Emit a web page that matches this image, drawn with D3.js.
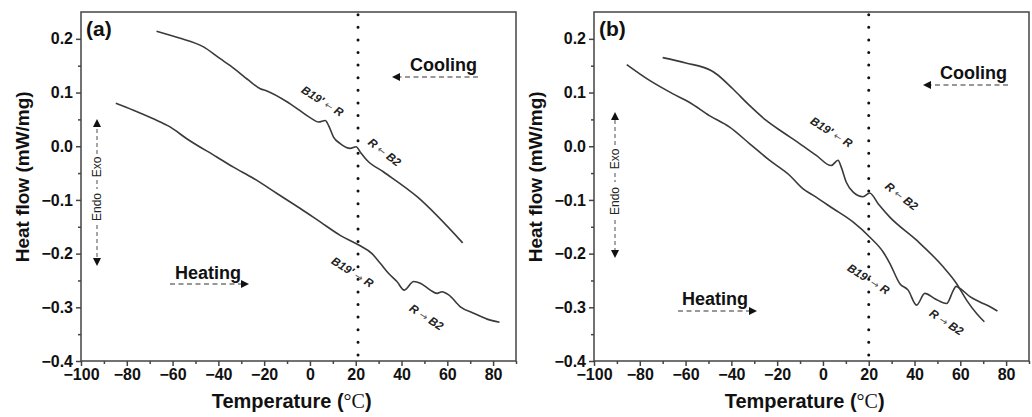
<!DOCTYPE html>
<html>
<head>
<meta charset="utf-8">
<script src="https://cdn.jsdelivr.net/npm/d3@7"></script>
<style>
body { margin: 0; background: #fff; }
svg { display: block; font-family: "Liberation Sans", Arial, sans-serif; }
</style>
</head>
<body>
<div id="chart"></div>
<script>
var width = 1032, height = 417;

// panel (a) curves
var aCoolT = [-67, -57.4, -46.5, -39.2, -34.8, -26.8, -21.7, -18.8, -8.6, 0.9, 3.8, 6.7, 8.1, 10.3, 13.2, 17.6, 20.2, 22, 24.9, 32.2, 46.8, 66.7];
var aCoolV = [0.214, 0.202, 0.185, 0.163, 0.150, 0.123, 0.107, 0.103, 0.079, 0.051, 0.045, 0.048, 0.039, 0.017, 0.005, -0.004, -0.001, -0.011, -0.026, -0.048, -0.094, -0.180];
var aHeatT = [-84.8, -77.1, -68.4, -61.1, -53.8, -40.7, -33.4, -24.6, -14.4, -4.2, 4.5, 13.2, 21.3, 27.1, 30.7, 34.4, 38, 41.2, 45.3, 48.2, 52.6, 55.5, 57.7, 60.6, 65.7, 71.5, 77.4, 82.8];
var aHeatV = [0.080, 0.067, 0.051, 0.036, 0.014, -0.020, -0.039, -0.060, -0.088, -0.116, -0.141, -0.166, -0.184, -0.200, -0.218, -0.237, -0.252, -0.268, -0.252, -0.255, -0.268, -0.274, -0.271, -0.277, -0.299, -0.311, -0.322, -0.328];

// panel (b) curves
var bCoolT = [-70, -59.9, -48.9, -46.7, -39.4, -32.1, -24.8, -17.5, -10.2, -2.9, 3.6, 6.6, 8, 10.2, 13.1, 17.5, 20.4, 24.1, 29.2, 40.9, 52.6, 58.4, 62.8, 67.2, 70.5];
var bCoolV = [0.165, 0.155, 0.141, 0.135, 0.107, 0.076, 0.048, 0.026, 0.005, -0.017, -0.036, -0.026, -0.039, -0.067, -0.085, -0.094, -0.087, -0.107, -0.132, -0.175, -0.225, -0.256, -0.287, -0.312, -0.327];
var bHeatT = [-85.7, -75.9, -65.7, -58.4, -49.6, -40.9, -32.1, -23.4, -14.6, -8.8, -4.4, 4.4, 13.1, 20.4, 26.3, 29.2, 33.6, 37.2, 40.9, 44.5, 48.9, 54, 57, 58.1, 59.9, 64.2, 68.6, 73, 76.2];
var bHeatV = [0.152, 0.123, 0.098, 0.082, 0.057, 0.036, 0.005, -0.026, -0.054, -0.079, -0.091, -0.116, -0.141, -0.169, -0.197, -0.218, -0.256, -0.268, -0.296, -0.274, -0.284, -0.293, -0.268, -0.261, -0.265, -0.280, -0.290, -0.299, -0.307];

var xTicks = [-100, -80, -60, -40, -20, 0, 20, 40, 60, 80];
var yTicks = [0.2, 0.1, 0.0, -0.1, -0.2, -0.3, -0.4];
// [left part, arrow, right part]
var labels = [["B19' ", "\u2190", " R"], ["R ", "\u2190", " B2"], ["B19' ", "\u2192", " R"], ["R ", "\u2192", " B2"]];

var svg = d3.select("#chart").append("svg")
  .attr("width", width)
  .attr("height", height);

var defs = svg.append("defs");
defs.append("marker").attr("id", "head")
  .attr("viewBox", "0 0 10 10").attr("refX", 5).attr("refY", 5)
  .attr("markerWidth", 8).attr("markerHeight", 8)
  .attr("markerUnits", "userSpaceOnUse")
  .attr("orient", "auto")
  .append("path").attr("d", "M0,0 L10,5 L0,10 Z").attr("fill", "#111");

function fmt(v) {
  if (v === 0) return "0";
  return (v < 0 ? "\u2212" : "") + Math.abs(v);
}
function fmtY(v) {
  return (v < -1e-9 ? "\u2212" : "") + Math.abs(v).toFixed(1);
}

function styleTicks(s) {
  s.select(".domain").remove();
  s.selectAll(".tick line").attr("stroke", "#444").attr("stroke-width", 1.5);
  s.selectAll(".tick text").attr("font-size", 16).attr("font-weight", "bold").attr("fill", "#111")
    .attr("font-family", "Liberation Sans, Arial, sans-serif");
}

function drawPanel(c) {
  var x = d3.scaleLinear().domain([-100, 90]).range([c.left, c.left + 435]);
  var y = d3.scaleLinear().domain([-0.4, 0.25]).range([361, 12]);
  var g = svg.append("g");

  // frame
  g.append("rect").attr("x", x(-100)).attr("y", y(0.25))
    .attr("width", x(90) - x(-100)).attr("height", y(-0.4) - y(0.25))
    .attr("fill", "none").attr("stroke", "#444").attr("stroke-width", 1.5);

  // x axis
  g.append("g").attr("transform", "translate(0," + y(-0.4) + ")")
    .call(d3.axisBottom(x).tickValues(xTicks).tickSize(5).tickPadding(3).tickFormat(fmt))
    .call(styleTicks);
  g.append("g").attr("transform", "translate(0," + y(-0.4) + ")")
    .call(d3.axisBottom(x).tickValues(d3.range(-90, 91, 20)).tickSize(3).tickFormat(""))
    .call(styleTicks);

  // y axis
  g.append("g").attr("transform", "translate(" + x(-100) + ",0)")
    .call(d3.axisLeft(y).tickValues(yTicks).tickSize(5).tickPadding(3).tickFormat(fmtY))
    .call(styleTicks);
  g.append("g").attr("transform", "translate(" + x(-100) + ",0)")
    .call(d3.axisLeft(y).tickValues([0.15, 0.05, -0.05, -0.15, -0.25, -0.35]).tickSize(3).tickFormat(""))
    .call(styleTicks);

  // axis titles
  var xt = g.append("text").attr("x", x(-8)).attr("y", 408)
    .attr("text-anchor", "middle").attr("font-size", 20).attr("font-weight", "bold").attr("fill", "#111");
  xt.append("tspan").text("Temperature (");
  xt.append("tspan").attr("font-family", "Liberation Serif, serif").attr("font-weight", "normal").text("\u00B0C");
  xt.append("tspan").text(")");
  g.append("text")
    .attr("transform", "translate(" + (c.left - 52) + "," + y(-0.057) + ") rotate(-90)")
    .attr("text-anchor", "middle").attr("font-size", 19).attr("font-weight", "bold").attr("fill", "#111")
    .text("Heat flow (mW/mg)");

  // dotted line
  g.append("line").attr("x1", x(c.vline)).attr("x2", x(c.vline))
    .attr("y1", y(0.245)).attr("y2", y(-0.4))
    .attr("stroke", "#111").attr("stroke-width", 3).attr("stroke-linecap", "round")
    .attr("stroke-dasharray", "0,12.6");

  // curves
  var line = d3.line().x(function(d) { return x(d[0]); }).y(function(d) { return y(d[1]); })
    .curve(d3.curveMonotoneX);
  [[c.coolT, c.coolV], [c.heatT, c.heatV]].forEach(function(s) {
    g.append("path").datum(d3.zip(s[0], s[1])).attr("d", line)
      .attr("fill", "none").attr("stroke", "#3a3a3a").attr("stroke-width", 1.6);
  });

  // panel tag
  g.append("text").attr("x", c.left + 5).attr("y", 36).attr("font-size", 21).attr("font-weight", "bold")
    .attr("fill", "#111").text(c.tag);

  // cooling / heating
  g.append("text").attr("x", c.cool[0]).attr("y", c.cool[1]).attr("font-size", 18).attr("font-weight", "bold")
    .attr("fill", "#111").text("Cooling");
  g.append("line").attr("x1", c.coolArrow[0]).attr("x2", c.coolArrow[1])
    .attr("y1", c.coolArrow[2]).attr("y2", c.coolArrow[2])
    .attr("stroke", "#777").attr("stroke-width", 1.5).attr("stroke-dasharray", "5,3.5")
    .attr("marker-end", "url(#head)");
  g.append("text").attr("x", c.heat[0]).attr("y", c.heat[1]).attr("font-size", 18).attr("font-weight", "bold")
    .attr("fill", "#111").text("Heating");
  g.append("line").attr("x1", c.heatArrow[0]).attr("x2", c.heatArrow[1])
    .attr("y1", c.heatArrow[2]).attr("y2", c.heatArrow[2])
    .attr("stroke", "#777").attr("stroke-width", 1.5).attr("stroke-dasharray", "5,3.5")
    .attr("marker-end", "url(#head)");

  // exo / endo
  var ex = c.exo[0], e = c.exo;
  [[e[1] + 4, e[2] - 2], [e[3] + 2, e[4] - 2], [e[5] + 2, e[6] - 4]].forEach(function(s, i) {
    var ln = g.append("line").attr("x1", ex).attr("x2", ex)
      .attr("stroke", "#777").attr("stroke-width", 1.3).attr("stroke-dasharray", "4,3");
    if (i === 0) ln.attr("y1", s[1]).attr("y2", s[0]).attr("marker-end", "url(#head)");
    else if (i === 2) ln.attr("y1", s[0]).attr("y2", s[1]).attr("marker-end", "url(#head)");
    else ln.attr("y1", s[0]).attr("y2", s[1]);
  });
  g.append("text").attr("transform", "translate(" + (ex + 4) + "," + ((e[2] + e[3]) / 2) + ") rotate(-90)")
    .attr("text-anchor", "middle").attr("font-size", 12).attr("fill", "#222").text("Exo");
  g.append("text").attr("transform", "translate(" + (ex + 4) + "," + ((e[4] + e[5]) / 2) + ") rotate(-90)")
    .attr("text-anchor", "middle").attr("font-size", 12).attr("fill", "#222").text("Endo");

  // transition labels
  labels.forEach(function(t, i) {
    var p = c.labelPos[i];
    var tx = g.append("text").attr("transform", "translate(" + p[0] + "," + p[1] + ") rotate(" + p[2] + ")")
      .attr("text-anchor", "middle").attr("dominant-baseline", "middle")
      .attr("font-size", 11.5).attr("font-weight", "bold").attr("font-style", "italic").attr("fill", "#222");
    tx.append("tspan").text(t[0]);
    tx.append("tspan").attr("font-family", "DejaVu Sans, sans-serif").attr("font-weight", "normal")
      .attr("font-style", "normal").attr("font-size", 10).attr("fill", "#555").text(t[1]);
    tx.append("tspan").text(t[2]);
  });
}

drawPanel({
  tag: "(a)", left: 81, vline: 21,
  coolT: aCoolT, coolV: aCoolV, heatT: aHeatT, heatV: aHeatV,
  cool: [410, 71], coolArrow: [478, 396, 77],
  heat: [175, 279], heatArrow: [170, 245, 284],
  exo: [97, 119, 156, 178, 191, 223, 266],
  labelPos: [[322, 102, 32], [384, 153, 38], [352, 273, 32], [426, 318, 33]]
});

drawPanel({
  tag: "(b)", left: 594, vline: 20,
  coolT: bCoolT, coolV: bCoolV, heatT: bHeatT, heatV: bHeatV,
  cool: [940, 79], coolArrow: [1008, 927, 85],
  heat: [682, 305], heatArrow: [678, 753, 311],
  exo: [615, 112, 147, 171, 184, 218, 258],
  labelPos: [[831, 133, 32], [901, 197, 38], [868, 280, 32], [946, 323, 33]]
});
</script>
</body>
</html>
